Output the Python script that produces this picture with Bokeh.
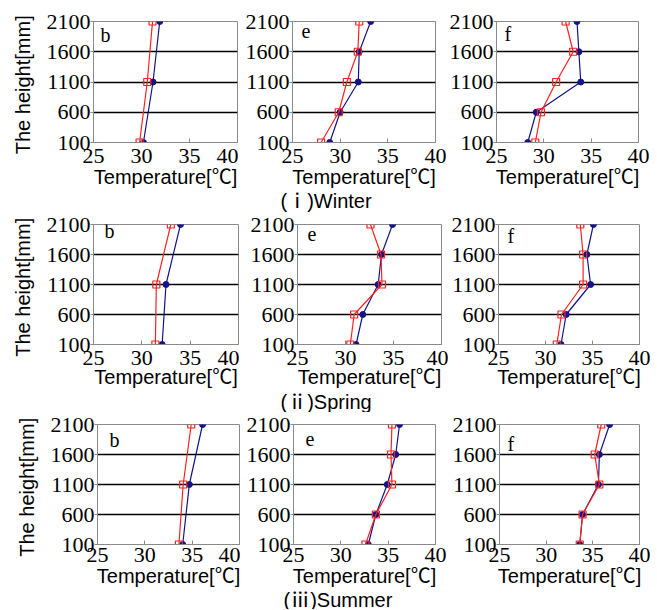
from bokeh.plotting import figure
from bokeh.layouts import column, row
from bokeh.models import Range1d, FixedTicker, Label
from bokeh.embed import file_html
from bokeh.resources import INLINE

# ---------------- data ----------------
heights_b = [100, 1100, 2100]
heights_ef = [100, 600, 1100, 1600, 2100]
y_ticks = [100, 600, 1100, 1600, 2100]
x_ticks = [25, 30, 35, 40]
grid_heights = [600, 1100, 1600]

panel_names = ["b", "e", "f"]
season_titles = ["(ⅰ)Winter", "(ⅱ)Spring", "(ⅲ)Summer"]

winter_b_blue = [30.2, 31.2, 31.9]
winter_b_red = [29.8, 30.6, 31.15]
winter_e_blue = [28.9, 30.0, 31.9, 32.0, 33.2]
winter_e_red = [28.0, 29.85, 30.7, 31.85, 32.0]
winter_f_blue = [28.3, 29.2, 33.9, 33.7, 33.5]
winter_f_red = [29.1, 29.7, 31.3, 33.1, 32.3]

spring_b_blue = [32.1, 32.5, 34.0]
spring_b_red = [31.4, 31.5, 33.0]
spring_e_blue = [31.1, 31.8, 33.4, 33.75, 34.9]
spring_e_red = [30.5, 30.9, 33.8, 33.7, 32.6]
spring_f_blue = [31.65, 32.2, 34.8, 34.4, 35.1]
spring_f_red = [31.2, 31.7, 34.0, 34.0, 33.7]

summer_b_blue = [34.0, 34.7, 36.1]
summer_b_red = [33.6, 34.05, 34.9]
summer_e_blue = [32.9, 33.7, 34.9, 35.8, 36.2]
summer_e_red = [32.6, 33.7, 35.4, 35.3, 35.4]
summer_f_blue = [33.6, 33.9, 35.6, 35.7, 36.8]
summer_f_red = [33.6, 33.9, 35.7, 35.2, 35.9]

series = [
    [(winter_b_blue, winter_b_red), (winter_e_blue, winter_e_red), (winter_f_blue, winter_f_red)],
    [(spring_b_blue, spring_b_red), (spring_e_blue, spring_e_red), (spring_f_blue, spring_f_red)],
    [(summer_b_blue, summer_b_red), (summer_e_blue, summer_e_red), (summer_f_blue, summer_f_red)],
]

# ---------------- layout (page pixel positions) ----------------
PAGE_W = 655
row_y = [(0, 190), (212, 392), (412, 589)]
title_y = [(190, 212), (392, 412), (589, 609)]
title_x = [280, 280, 283]
title_lift = [12, 11, 10]          # baseline height above title strip bottom
col_x = [[0, 238, 446, PAGE_W], [0, 239, 448, PAGE_W], [0, 240, 449, PAGE_W]]
frame_x = [
    [(93, 237), (292, 435), (493, 638)],
    [(93, 238), (297, 441), (495, 639)],
    [(97, 239), (293, 435), (496, 639)],
]
frame_y = [(21, 142), (224, 344), (424, 545)]
tick_standoff = [6, 6, 3]
label_standoff = [0, -2, 0]
letter_off = [
    [(7, -2), (9, -2), (8, -1)],
    [(11, 5), (10, -2), (9, 0)],
    [(12, -4), (12, -7), (8, -8)],
]

BLUE = "#141488"
RED = "#ff2020"
FRAME = "#8a8a8a"
SERIF = "Liberation Serif"
SANS = "Liberation Sans, Noto Sans CJK JP"


def make_panel(r, c):
    x0, x1 = col_x[r][c], col_x[r][c + 1]
    y0, y1 = row_y[r]
    fl, fr = frame_x[r][c]
    ft, fb = frame_y[r]
    p = figure(width=x1 - x0, height=y1 - y0, title=None,
               x_range=Range1d(25, 40), y_range=Range1d(100, 2100),
               output_backend="svg", toolbar_location=None,
               min_border_left=fl - x0, min_border_right=x1 - fr,
               min_border_top=ft - y0, min_border_bottom=y1 - fb)
    p.background_fill_color = "white"
    p.border_fill_color = "white"
    p.outline_line_color = FRAME
    p.outline_line_width = 1

    p.xgrid.visible = False
    p.ygrid.ticker = FixedTicker(ticks=grid_heights)
    p.ygrid.grid_line_color = "black"
    p.ygrid.grid_line_width = 1.4

    p.xaxis.ticker = FixedTicker(ticks=x_ticks)
    p.yaxis.ticker = FixedTicker(ticks=y_ticks)
    for ax in (p.xaxis[0], p.yaxis[0]):
        ax.axis_line_color = FRAME
        ax.major_tick_line_color = FRAME
        ax.minor_tick_line_color = None
        ax.major_label_text_font = SERIF
        ax.major_label_text_font_size = "22px"
        ax.major_label_text_color = "black"
    p.xaxis.major_tick_in = 4
    p.xaxis.major_tick_out = 0
    p.xaxis.major_label_standoff = tick_standoff[r]
    p.yaxis.major_tick_in = 0
    p.yaxis.major_tick_out = 3
    p.yaxis.major_label_standoff = 0

    p.xaxis.axis_label = "Temperature[℃]"
    p.xaxis.axis_label_text_font = SANS
    p.xaxis.axis_label_text_font_style = "normal"
    p.xaxis.axis_label_text_font_size = "20px"
    p.xaxis.axis_label_text_color = "black"
    p.xaxis.axis_label_standoff = label_standoff[r]
    if c == 0:
        p.yaxis.axis_label = "The  height[mm]"
        p.yaxis.axis_label_text_font = SANS
        p.yaxis.axis_label_text_font_style = "normal"
        p.yaxis.axis_label_text_font_size = "20px"
        p.yaxis.axis_label_text_color = "black"
        p.yaxis.axis_label_standoff = 10

    heights = heights_b if c == 0 else heights_ef
    blue, red = series[r][c]
    p.line(blue, heights, line_color=BLUE, line_width=1.2)
    p.scatter(blue, heights, marker="circle", size=6, fill_color=BLUE, line_color=BLUE)
    p.line(red, heights, line_color=RED, line_width=1.2)
    p.scatter(red, heights, marker="square", size=7, fill_color=None, line_color=RED, line_width=1.2)

    dx, dy = letter_off[r][c]
    p.add_layout(Label(x=25, y=2100, x_offset=dx, y_offset=dy, text=panel_names[c],
                       text_baseline="top", text_align="left",
                       text_font=SERIF, text_font_size="20px", text_color="black"))
    return p


def make_title(r):
    y0, y1 = title_y[r]
    h = y1 - y0
    p = figure(width=PAGE_W, height=h, title=None,
               x_range=Range1d(0, PAGE_W), y_range=Range1d(0, h),
               x_axis_type=None, y_axis_type=None, output_backend="svg",
               toolbar_location=None, min_border=0,
               min_border_left=0, min_border_right=0, min_border_top=0, min_border_bottom=0)
    p.outline_line_color = None
    p.background_fill_color = "white"
    p.border_fill_color = "white"
    p.add_layout(Label(x=title_x[r], y=title_lift[r], text=season_titles[r],
                       text_baseline="alphabetic", text_align="left",
                       text_font=SANS, text_font_size="20px", text_color="black"))
    return p


items = []
for r in range(3):
    items.append(row(*[make_panel(r, c) for c in range(3)], spacing=0))
    items.append(make_title(r))
layout = column(*items, spacing=0)

open("out.html", "w").write(file_html(layout, INLINE))
